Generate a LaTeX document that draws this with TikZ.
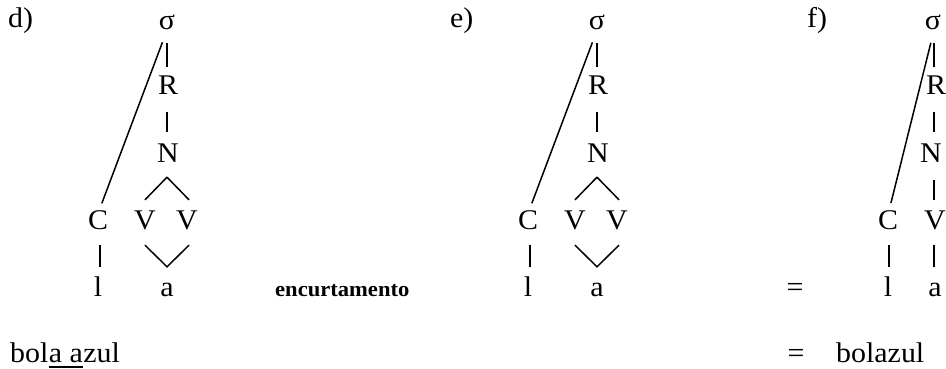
\documentclass[tikz,border=0pt]{standalone}
\usepackage{fontspec}
\setmainfont{Liberation Serif}[FakeStretch=1.05]
\newcommand\mytree[2]{%
  \node[lab] (#1s) at (#2, 339) {σ};
  \node[lab] (#1R) at (#2+1, 274) {R};
  \node[lab] (#1N) at (#2+1, 206) {N};
  \node[lab] (#1C) at (#2-69, 139) {C};
  \node[lab] (#1V) at (#2-22, 139) {V};
  \node[lab] (#1W) at (#2+20, 139) {V};
  \node[lab] (#1l) at (#2-69, 72) {l};
  \node[lab] (#1a) at (#2, 72) {a};
  \draw[ln, shorten <=13pt, shorten >=9pt] (#1s.south) -- (#1s.south |- #1R.north);
  \draw[ln, shorten <=17pt, shorten >=12pt] (#1s.south |- #1R.south) -- (#1s.south |- #1N.north);
  \draw[ln, shorten <=13pt, shorten >=8pt] (#1s.south) -- ([xshift=1pt]#1C.north);
  \draw[ln] ([xshift=-1pt,yshift=-14pt]#1N.south) -- ([yshift=11pt]#1V.north);
  \draw[ln] ([xshift=-1pt,yshift=-14pt]#1N.south) -- ([xshift=2pt,yshift=11pt]#1W.north);
  \draw[ln] ([yshift=-15pt]#1V.south) -- ([yshift=11pt]#1a.north) -- ([xshift=2pt,yshift=-15pt]#1W.south);
  \draw[ln, shorten <=15pt, shorten >=11pt] ([xshift=2pt]#1C.south) -- ([xshift=2pt]#1l.north);
}
\begin{document}
\begin{tikzpicture}[x=1pt,y=1pt,
  lab/.style={inner sep=0pt, anchor=base, font=\fontsize{28.5}{30}\selectfont, text height=19pt, text depth=0pt},
  lbl/.style={lab, anchor=base west},
  ln/.style={line width=1.5pt},
]
\useasboundingbox (0,0) rectangle (946,369);
% labels
\node[lbl] (ld) at (8,341) {d)};
\node[lbl] (le) at (450,341) {e)};
\node[lbl] (lf) at (807,341) {f)};
% trees d and e
\mytree{d}{167}
\mytree{e}{597}
% tree f
\node[lab] (fs) at (933, 339) {σ};
\node[lab] (fR) at (936, 274) {R};
\node[lab] (fN) at (931, 206) {N};
\node[lab] (fC) at (888, 139) {C};
\node[lab] (fV) at (935, 139) {V};
\node[lab] (fl) at (888, 72) {l};
\node[lab] (fa) at (935, 72) {a};
\draw[ln, shorten <=13pt, shorten >=9pt] ([xshift=1pt]fs.south) -- ([xshift=1pt]fs.south |- fR.north);
\draw[ln, shorten <=17pt, shorten >=12pt] ([xshift=1pt]fs.south |- fR.south) -- ([xshift=1pt]fs.south |- fN.north);
\draw[ln, shorten <=17pt, shorten >=11pt] ([xshift=1pt]fs.south |- fN.south) -- ([xshift=1pt]fs.south |- fV.north);
\draw[ln, shorten <=15pt, shorten >=11pt] ([xshift=1pt]fs.south |- fV.south) -- ([xshift=1pt]fs.south |- fa.north);
\draw[ln, shorten <=13pt, shorten >=8pt] ([xshift=1pt]fs.south) -- ([xshift=1pt]fC.north);
\draw[ln, shorten <=15pt, shorten >=11pt] ([xshift=1pt]fC.south) -- ([xshift=1pt]fl.north);
% middle text
\node[lbl, font=\fontsize{21.5}{24}\selectfont\bfseries] (enc) at (275,72) {encurtamento};
\node[lab] (eq1) at (795,72) {=};
% bottom row
\node[lbl] (b1) at (10,6) {bol};
\node[lbl] (b2) at (b1.base east) {a a};
\node[lbl] (b3) at (b2.base east) {zul};
\draw[line width=2.2pt] ([yshift=-4pt]b2.base west) -- ([yshift=-4pt]b2.base east);
\node[lab] (eq2) at (796,6) {=};
\node[lbl] (bz) at (836,6) {bolazul};
\end{tikzpicture}
\end{document}
